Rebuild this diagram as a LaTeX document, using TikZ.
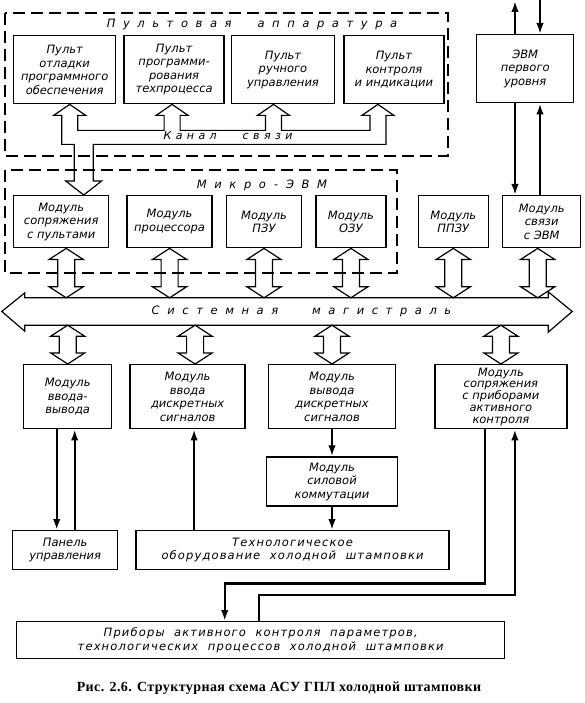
\documentclass[tikz,border=0pt]{standalone}
\usepackage{fontspec}
\usetikzlibrary{positioning,calc,arrows.meta}
\newfontfamily\gost{DejaVu Sans}
\newfontfamily\gostsh{DejaVu Sans}[LetterSpace=10]
\newfontfamily\gostkan{DejaVu Sans}[LetterSpace=40]
\newfontfamily\gostraz{DejaVu Sans}[LetterSpace=66]
\newfontfamily\podpis{Liberation Serif}[LetterSpace=3]

% полая двойная стрелка от #1 (верх) до #2 (низ)
\newcommand{\shina}[2]{%
  \draw[polaya] let \p1=(#1), \p2=(#2) in
    (\x1,\y1) -- (\x1+17pt,\y1-11pt) -- (\x1+8.5pt,\y1-11pt) -- (\x1+8.5pt,\y2+11pt)
    -- (\x1+17pt,\y2+11pt) -- (\x1,\y2) -- (\x1-17pt,\y2+11pt) -- (\x1-8.5pt,\y2+11pt)
    -- (\x1-8.5pt,\y1-11pt) -- (\x1-17pt,\y1-11pt) -- cycle;}

\begin{document}
\begin{tikzpicture}[x=1pt, y=-1pt, >={Latex[length=11pt,width=7.5pt]},
  blok/.style={draw, line width=1.4pt, align=center, inner sep=2pt,
    font=\gost\itshape\fontsize{11.5}{13.5}\selectfont},
  svyaz/.style={line width=2.2pt},
  polaya/.style={line width=1.2pt},
  punktir/.style={line width=1.3pt, dash pattern=on 12pt off 6pt},
  zagl/.style={font=\gostraz\itshape\fontsize{11.5}{13.5}\selectfont}]
\useasboundingbox (0,0) rectangle (584,703);

% пультовая аппаратура
\draw[punktir] (5,13) rectangle (448,156);
\node[zagl] (tpa) at (252,25) {Пультовая\hspace{26pt}аппаратура};
\node[blok, minimum width=102pt, minimum height=68pt, anchor=north west] (p1) at (13,35) {Пульт\\отладки\\программного\\обеспечения};
\node[blok, minimum width=100pt, minimum height=68pt, right=7pt of p1] (p2) {Пульт\\программи-\\рования\\техпроцесса};
\node[blok, minimum width=103pt, minimum height=68pt, right=6pt of p2] (p3) {Пульт\\ручного\\управления};
\node[blok, minimum width=100pt, minimum height=68pt, right=8pt of p3] (p4) {Пульт\\контроля\\и индикации};
\node[blok, minimum width=97pt, minimum height=68pt, anchor=north west] (evm1) at (476,34) {ЭВМ\\первого\\уровня};

% микро-ЭВМ
\draw[punktir] (5,170) rectangle (397,273);
\node[zagl] (tme) at (262,185) {Микро\hspace{8pt}-\hspace{8pt}ЭВМ};
\node[blok, minimum width=95pt, minimum height=52pt, anchor=north west] (m1) at (13,195) {Модуль\\сопряжения\\с пультами};
\node[blok, minimum width=85pt, minimum height=52pt, right=17pt of m1] (m2) {Модуль\\процессора};
\node[blok, minimum width=75pt, minimum height=52pt, right=13pt of m2] (m3) {Модуль\\ПЗУ};
\node[blok, minimum width=70pt, minimum height=52pt, right=13pt of m3] (m4) {Модуль\\ОЗУ};
\node[blok, minimum width=70pt, minimum height=52pt, right=31pt of m4] (m5) {Модуль\\ППЗУ};
\node[blok, minimum width=78pt, minimum height=52pt, right=13pt of m5] (m6) {Модуль\\связи\\с ЭВМ};

% канал связи
\coordinate (k1) at ([xshift=5pt]p1.south);
\coordinate (k2) at ([xshift=-2pt]p2.south);
\coordinate (k3) at ([xshift=-9.5pt]p3.south);
\coordinate (k4) at ([xshift=-16pt]p4.south);
\coordinate (k0) at ([xshift=22.5pt]m1.north);
\draw[polaya] let \p1=(k1), \p2=(k2), \p3=(k3), \p4=(k4), \p5=(k0) in
  (\x1,\y1) -- (\x1+16pt,\y1-11pt) -- (\x1+8pt,\y1-11pt) -- (\x1+8pt,\y1-26pt)
  -- (\x2-8pt,\y1-26pt) -- (\x2-8pt,\y1-11pt) -- (\x2-16pt,\y1-11pt) -- (\x2,\y1)
  -- (\x2+16pt,\y1-11pt) -- (\x2+8pt,\y1-11pt) -- (\x2+8pt,\y1-26pt)
  -- (\x3-8pt,\y1-26pt) -- (\x3-8pt,\y1-11pt) -- (\x3-16pt,\y1-11pt) -- (\x3,\y1)
  -- (\x3+16pt,\y1-11pt) -- (\x3+8pt,\y1-11pt) -- (\x3+8pt,\y1-26pt)
  -- (\x4-8pt,\y1-26pt) -- (\x4-8pt,\y1-11pt) -- (\x4-16pt,\y1-11pt) -- (\x4,\y1)
  -- (\x4+16pt,\y1-11pt) -- (\x4+8pt,\y1-11pt) -- (\x4+8pt,\y1-40pt)
  -- (\x5+9.5pt,\y1-40pt) -- (\x5+9.5pt,\y5+14pt) -- (\x5+18pt,\y5+14pt) -- (\x5,\y5)
  -- (\x5-18pt,\y5+14pt) -- (\x5-9.5pt,\y5+14pt) -- (\x5-9.5pt,\y1-40pt)
  -- (\x1-8pt,\y1-40pt) -- (\x1-8pt,\y1-11pt) -- (\x1-16pt,\y1-11pt) -- cycle;
\node[font=\gostkan\itshape\fontsize{11}{13}\selectfont] (kan) at (228,136) {Канал\hspace{26pt}связи};

% связь с ЭВМ первого уровня
\coordinate (vyh) at (515,1);
\coordinate (vh) at (540,0);
\draw[svyaz,->] (vyh |- evm1.north) -- (vyh);
\draw[svyaz,->] (vh) -- (vh |- evm1.north);
\draw[svyaz,->] (vyh |- evm1.south) -- (vyh |- m6.north);
\draw[svyaz,->] (vh |- m6.north) -- (vh |- evm1.south);

% системная магистраль
\node[minimum width=523pt, minimum height=27pt, inner sep=0pt] (mag) at (286.5,311.5) {};
\draw[polaya] (mag.north west) -- (mag.north east) -- ([yshift=6pt]mag.north east)
  -- ([xshift=24pt]mag.east) -- ([yshift=-7pt]mag.south east) -- (mag.south east)
  -- (mag.south west) -- ([yshift=-6pt]mag.south west) -- ([xshift=-23pt]mag.west)
  -- ([yshift=5pt]mag.north west) -- cycle;
\node[zagl] (magt) at ([xshift=15pt]mag.center) {Системная\hspace{34pt}магистраль};

% нижний ряд модулей
\node[blok, minimum width=88pt, minimum height=64pt, anchor=north west] (l1) at (23,364) {Модуль\\ввода-\\вывода};
\node[blok, minimum width=115pt, minimum height=64pt, right=17pt of l1] (l2) {Модуль\\ввода\\дискретных\\сигналов};
\node[blok, minimum width=127pt, minimum height=64pt, right=22pt of l2] (l3) {Модуль\\вывода\\дискретных\\сигналов};
\node[blok, minimum width=132pt, minimum height=64pt, right=38pt of l3,
  font=\gost\itshape\fontsize{11.5}{11.8}\selectfont] (l4) {Модуль\\сопряжения\\с приборами\\активного\\контроля};
\node[blok, minimum width=131pt, minimum height=49pt, below=27pt of l3] (sk) {Модуль\\силовой\\коммутации};
\node[blok, minimum width=105pt, minimum height=39pt, anchor=north west] (pu) at (12,530) {Панель\\управления};
\node[blok, minimum width=313pt, minimum height=39pt, right=17pt of pu,
  font=\gostsh\itshape\fontsize{11.5}{13.5}\selectfont] (to) {Технологическое\\оборудование\ \ холодной\ \ штамповки};
\node[blok, minimum width=488pt, minimum height=37pt, anchor=north west,
  font=\gostsh\itshape\fontsize{11.5}{13.5}\selectfont] (pr) at (16,621) {Приборы\ \ активного\ \ контроля\ \ параметров,\\технологических\ \ процессов\ \ холодной\ \ штамповки};

% шины к магистрали
\coordinate (s1) at ([xshift=5pt]m1.south);
\coordinate (s6) at ([xshift=-4pt]m6.south);
\shina{s1}{s1 |- mag.north}
\shina{m2.south}{m2.south |- mag.north}
\shina{m3.south}{m3.south |- mag.north}
\shina{m4.south}{m4.south |- mag.north}
\shina{m5.south}{m5.south |- mag.north}
\shina{s6}{s6 |- mag.north}
\coordinate (n2) at ([xshift=7.5pt]l2.north);
\shina{l1.north |- mag.south}{l1.north}
\shina{n2 |- mag.south}{n2}
\shina{l3.north |- mag.south}{l3.north}
\shina{l4.north |- mag.south}{l4.north}

% сигнальные линии
\coordinate (a1) at ([xshift=-11pt]l1.south);
\coordinate (b1) at ([xshift=7pt]l1.south);
\draw[svyaz,->] (a1) -- (a1 |- pu.north);
\draw[svyaz,->] (b1 |- pu.north) -- (b1);
\coordinate (d2) at ([xshift=6.5pt]l2.south);
\draw[svyaz,->] (d2 |- to.north) -- (d2);
\draw[svyaz,->] (l3.south) -- (l3.south |- sk.north);
\draw[svyaz,->] (sk.south) -- (sk.south |- to.north);
\coordinate (a4) at ([xshift=-16pt]l4.south);
\coordinate (b4) at ([xshift=14pt]l4.south);
\coordinate (a5) at ([xshift=-36pt]pr.north);
\coordinate (b5) at ([xshift=-2pt]pr.north);
\draw[svyaz,->] (a4) -- ++(0,154) -| (a5);
\draw[svyaz,->] (b5) -- ++(0,-26) -| (b4);

\node[font=\podpis\bfseries\fontsize{14}{16}\selectfont] (cap) at (279,688) {Рис. 2.6. Структурная схема АСУ ГПЛ холодной штамповки};
\end{tikzpicture}
\end{document}
